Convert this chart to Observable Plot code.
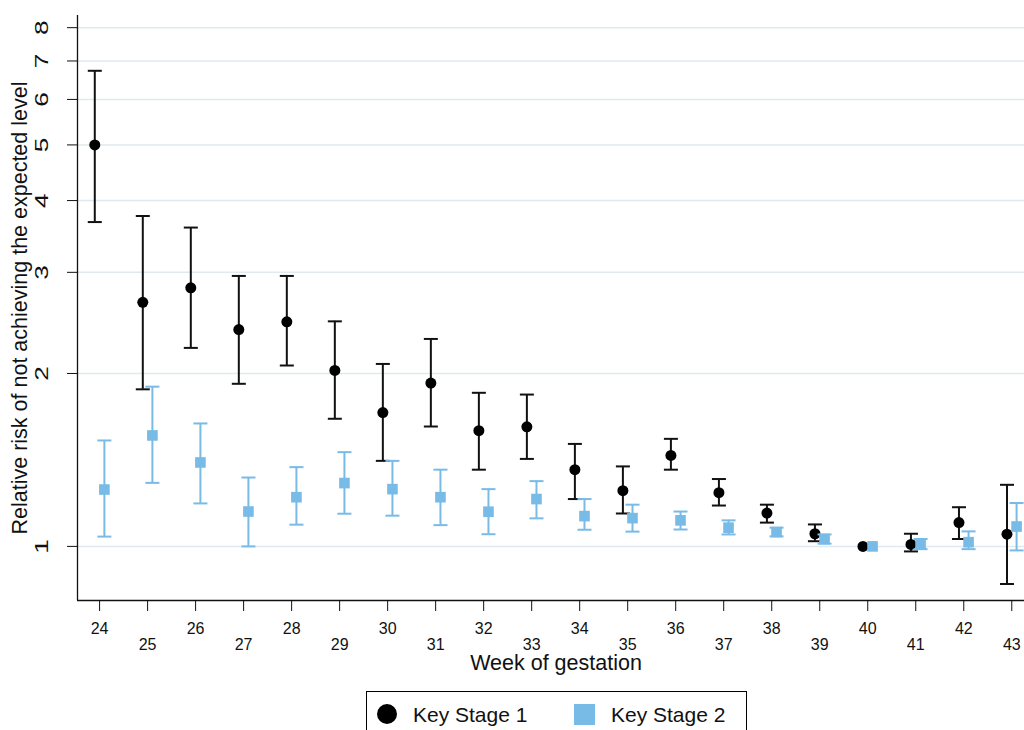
<!DOCTYPE html>
<html>
<head>
<meta charset="utf-8">
<script src="https://cdn.jsdelivr.net/npm/d3@7"></script>
<script src="https://cdn.jsdelivr.net/npm/@observablehq/plot@0.6"></script>
<style>
  body { margin: 0; background: #fff; font-family: "Liberation Sans", Arial, sans-serif; }
  #chart { position: absolute; left: 0; top: 0; }
  #legend { position: absolute; left: 366px; top: 691px; width: 381px; height: 52px; border: 1px solid #000; box-sizing: border-box; background: #fff; }
  #legend .sym { position: absolute; }
  #legend .lab { position: absolute; font-size: 21px; line-height: 21px; color: #111; white-space: nowrap; }
</style>
</head>
<body>
<div id="chart"></div>
<div id="legend"></div>
<script>
// ---- data ----
const weeks = [24, 25, 26, 27, 28, 29, 30, 31, 32, 33, 34, 35, 36, 37, 38, 39, 40, 41, 42, 43];
const ks1Rr = [5.0, 2.66, 2.82, 2.385, 2.46, 2.025, 1.71, 1.925, 1.59, 1.615, 1.36, 1.25, 1.44, 1.24, 1.143, 1.052, 1.0, 1.008, 1.10, 1.05];
const ks1Lo = [3.67, 1.877, 2.216, 1.919, 2.065, 1.668, 1.409, 1.617, 1.36, 1.42, 1.209, 1.141, 1.36, 1.178, 1.10, 1.021, 1.0, 0.98, 1.03, 0.86];
const ks1Hi = [6.73, 3.76, 3.59, 2.957, 2.957, 2.465, 2.078, 2.297, 1.851, 1.838, 1.508, 1.378, 1.539, 1.31, 1.182, 1.092, 1.0, 1.052, 1.17, 1.28];
const ks2Rr = [1.256, 1.56, 1.40, 1.15, 1.218, 1.289, 1.258, 1.218, 1.149, 1.209, 1.129, 1.12, 1.11, 1.078, 1.059, 1.03, 1.0, 1.009, 1.017, 1.083];
const ks2Lo = [1.04, 1.29, 1.188, 1.0, 1.091, 1.14, 1.131, 1.089, 1.05, 1.119, 1.069, 1.061, 1.07, 1.049, 1.041, 1.011, 1.0, 0.989, 0.989, 0.984];
const ks2Hi = [1.529, 1.897, 1.637, 1.318, 1.374, 1.459, 1.409, 1.36, 1.258, 1.299, 1.209, 1.182, 1.15, 1.11, 1.078, 1.049, 1.0, 1.03, 1.062, 1.19];
const yTicks = [1, 2, 3, 4, 5, 6, 7, 8];
const seriesNames = ["Key Stage 1", "Key Stage 2"];
const xTitle = "Week of gestation";
const yTitle = "Relative risk of not achieving the expected level";

// ---- styling ----
const BLUE = "#78bbe6";
const GRID = "#dfeaee";
const FONT = "'Liberation Sans', Arial, sans-serif";
const OFFSET = 0.1;     // horizontal dodge between series (weeks)
const CAP = 0.146;      // half cap width (weeks)
const X0 = 23.54, X1 = 43.265, Y0 = 0.805, Y1 = 8.4;

const ks1 = weeks.map((w, i) => ({x: w - OFFSET, rr: ks1Rr[i], lo: ks1Lo[i], hi: ks1Hi[i]}));
const ks2 = weeks.map((w, i) => ({x: w + OFFSET, rr: ks2Rr[i], lo: ks2Lo[i], hi: ks2Hi[i]}));
const ks1Bars = ks1.filter(d => d.hi !== d.lo);
const ks2Bars = ks2.filter(d => d.hi !== d.lo);

function errorMarks(data, color) {
  return [
    Plot.ruleX(data, {x: "x", y1: "lo", y2: "hi", stroke: color, strokeWidth: 2}),
    Plot.link(data, {x1: d => d.x - CAP, x2: d => d.x + CAP, y1: "hi", y2: "hi", stroke: color, strokeWidth: 2}),
    Plot.link(data, {x1: d => d.x - CAP, x2: d => d.x + CAP, y1: "lo", y2: "lo", stroke: color, strokeWidth: 2})
  ];
}

const chart = Plot.plot({
  width: 1024,
  height: 688,
  marginLeft: 77,
  marginRight: 0,
  marginTop: 15,
  marginBottom: 88,
  x: {domain: [X0, X1], axis: null},
  y: {type: "log", domain: [Y0, Y1], axis: null},
  style: {fontFamily: FONT, background: "white", color: "#111", overflow: "visible"},
  marks: [
    Plot.ruleY(yTicks, {stroke: GRID, strokeWidth: 1.5}),
    Plot.axisY({ticks: yTicks, tickSize: 10, tickFormat: () => "", label: null, stroke: "#111"}),
    Plot.axisX({ticks: weeks, tickSize: 11, tickFormat: () => "", label: null, stroke: "#111"}),
    Plot.ruleX([X0], {stroke: "#111", strokeWidth: 1.3}),
    Plot.ruleY([Y0], {stroke: "#111", strokeWidth: 1.3}),
    // y tick labels (rotated)
    Plot.text(yTicks, {y: d => d, text: d => String(d), frameAnchor: "left", dx: -35, rotate: -90,
      fontSize: 17.5, textAnchor: "middle", lineAnchor: "middle", fill: "#111"}),
    // x tick labels, staggered
    Plot.text(weeks.filter(w => w % 2 === 0), {x: d => d, text: d => String(d), frameAnchor: "bottom",
      dy: 28, fontSize: 16, lineAnchor: "middle", fill: "#111"}),
    Plot.text(weeks.filter(w => w % 2 === 1), {x: d => d, text: d => String(d), frameAnchor: "bottom",
      dy: 44, fontSize: 16, lineAnchor: "middle", fill: "#111"}),
    // axis titles
    Plot.text([xTitle], {text: d => d, frameAnchor: "bottom", dx: 5, dy: 63, fontSize: 21.5, lineAnchor: "middle", fill: "#111"}),
    Plot.text([yTitle], {text: d => d, frameAnchor: "left", dx: -57, rotate: -90, fontSize: 21.5,
      textAnchor: "middle", lineAnchor: "middle", fill: "#111"}),
    // series
    ...errorMarks(ks1Bars, "#111"),
    Plot.dot(ks1, {x: "x", y: "rr", r: 5.5, fill: "#000", symbol: "circle"}),
    ...errorMarks(ks2Bars, BLUE),
    Plot.dot(ks2, {x: "x", y: "rr", r: 6, fill: BLUE, symbol: "square"})
  ]
});
// stretch the rotated y tick labels along the axis, as in the original
const tickStrings = new Set(yTicks.map(String));
chart.querySelectorAll("text").forEach(t => {
  const tr = t.getAttribute("transform") || "";
  if (tr.includes("rotate(-90)") && tickStrings.has(t.textContent)) {
    t.setAttribute("transform", tr + " scale(1.5,1)");
  }
});
document.getElementById("chart").appendChild(chart);

// ---- legend ----
const legend = document.getElementById("legend");
const items = [
  {name: seriesNames[0], shape: "circle", color: "#000", symLeft: 10, labLeft: 46},
  {name: seriesNames[1], shape: "square", color: BLUE, symLeft: 207, labLeft: 244}
];
items.forEach(it => {
  const s = document.createElement("div");
  s.className = "sym";
  s.style.left = it.symLeft + "px";
  s.style.top = "12px";
  s.style.width = (it.shape === "circle" ? 20 : 21) + "px";
  s.style.height = (it.shape === "circle" ? 20 : 21) + "px";
  s.style.background = it.color;
  if (it.shape === "circle") s.style.borderRadius = "50%";
  legend.appendChild(s);
  const l = document.createElement("div");
  l.className = "lab";
  l.style.left = it.labLeft + "px";
  l.style.top = "12px";
  l.textContent = it.name;
  legend.appendChild(l);
});
</script>
</body>
</html>
